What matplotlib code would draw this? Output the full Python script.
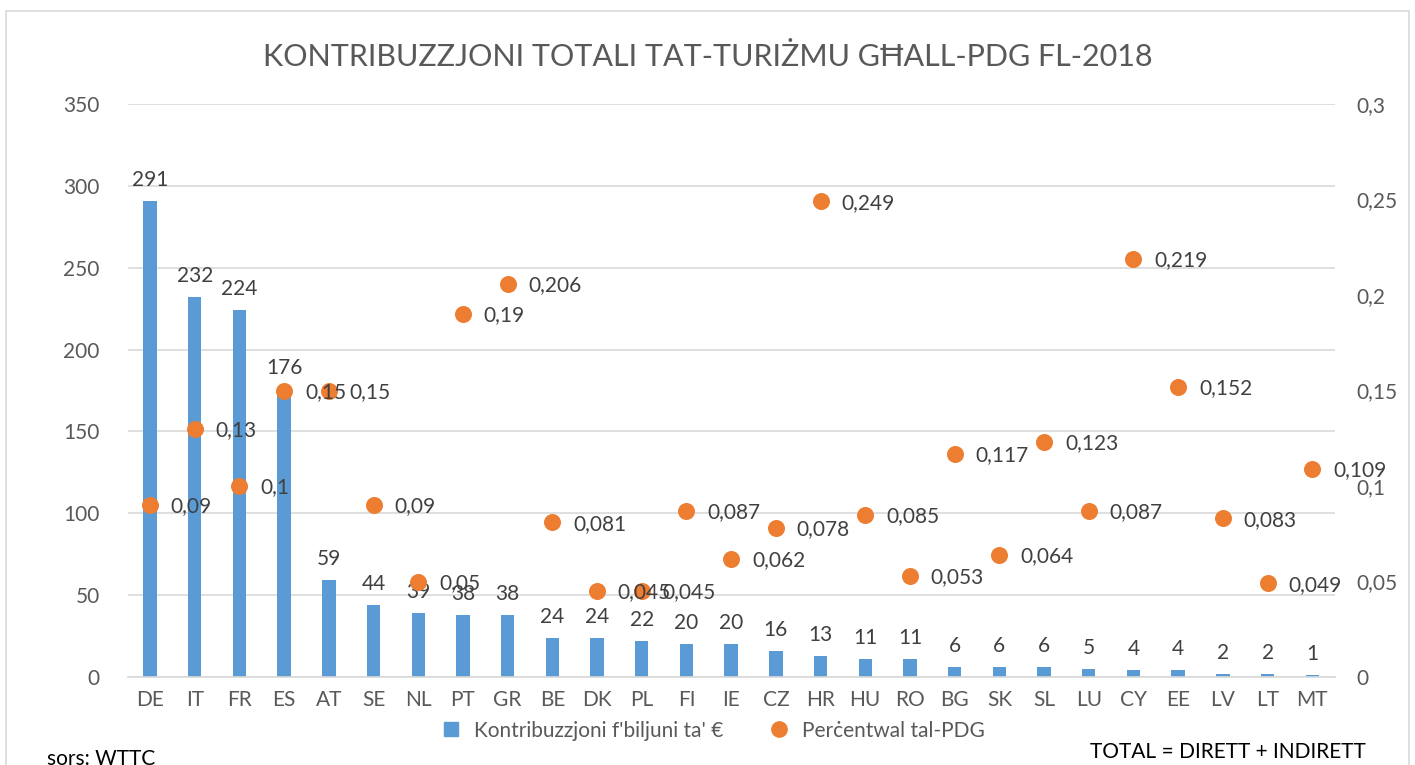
import matplotlib.pyplot as plt
from matplotlib.patches import Rectangle
from matplotlib.lines import Line2D
import numpy as np

# --- dados ---
countries = ["DE", "IT", "FR", "ES", "AT", "SE", "NL", "PT", "GR", "BE", "DK", "PL", "FI", "IE",
             "CZ", "HR", "HU", "RO", "BG", "SK", "SL", "LU", "CY", "EE", "LV", "LT", "MT"]
contrib = [291, 232, 224, 176, 59, 44, 39, 38, 38, 24, 24, 22, 20, 20,
           16, 13, 11, 11, 6, 6, 6, 5, 4, 4, 2, 2, 1]
pct_gdp = [0.09, 0.13, 0.1, 0.15, 0.15, 0.09, 0.05, 0.19, 0.206, 0.081, 0.045, 0.045, 0.087, 0.062,
           0.078, 0.249, 0.085, 0.053, 0.117, 0.064, 0.123, 0.087, 0.219, 0.152, 0.083, 0.049, 0.109]
left_ticks = [0, 50, 100, 150, 200, 250, 300, 350]
right_ticks = [0, 0.05, 0.1, 0.15, 0.2, 0.25, 0.3]

BLUE = "#5B9BD5"
ORANGE = "#ED7D31"
GREY = "#595959"
TXT = "#404040"
FS = 15

plt.rcParams.update({
    "font.family": ["Lato", "DejaVu Sans"],
    "font.size": FS,
})

def fmt(v):
    return ("%g" % v).replace(".", ",")

fig = plt.figure(figsize=(14.15, 7.65), dpi=100)
# moldura externa
fig.patches.append(Rectangle((0.004, -0.01), 0.992, 0.995, transform=fig.transFigure,
                             fill=False, edgecolor="#D9D9D9", linewidth=1.2))

ax = fig.add_axes([0.0902, 0.115, 0.853, 0.749])
x = np.arange(len(countries))

ax.bar(x, contrib, width=0.3, color=BLUE, zorder=2)
ax.set_xlim(-0.5, len(countries) - 0.5)
ax.set_ylim(0, 350)
ax.set_yticks(left_ticks)
ax.set_yticklabels([str(t) for t in left_ticks])
ax.set_xticks(x)
ax.set_xticklabels(countries)
ax.grid(axis="y", color="#D9D9D9", linewidth=1.2, zorder=0)
ax.set_axisbelow(True)
for s in ["top", "right", "left"]:
    ax.spines[s].set_visible(False)
ax.spines["bottom"].set_color("#D9D9D9")
ax.spines["bottom"].set_linewidth(1.2)
ax.tick_params(axis="both", length=0, colors=GREY, labelsize=FS)
ax.tick_params(axis="y", pad=20)
ax.tick_params(axis="x", pad=9)

for xi, v in zip(x, contrib):
    ax.annotate(str(v), (xi, v), xytext=(0, 8), textcoords="offset points",
                ha="center", va="bottom", fontsize=FS, color=TXT)

ax2 = ax.twinx()
ax2.set_ylim(0, 0.3)
ax2.set_yticks(right_ticks)
ax2.set_yticklabels([fmt(t) for t in right_ticks])
for s in ["top", "right", "left", "bottom"]:
    ax2.spines[s].set_visible(False)
ax2.tick_params(axis="y", length=0, colors=GREY, labelsize=FS, pad=16)

ax2.scatter(x, pct_gdp, s=150, color=ORANGE, zorder=3, linewidths=0)
for xi, v in zip(x, pct_gdp):
    ax2.annotate(fmt(v), (xi, v), xytext=(15, -1), textcoords="offset points",
                 ha="left", va="center", fontsize=FS, color=TXT)

fig.text(0.5, 0.926, "KONTRIBUZZJONI TOTALI TAT-TURIŻMU GĦALL-PDG FL-2018",
         ha="center", va="center", fontsize=22, color=GREY)

handles = [Line2D([], [], marker="s", linestyle="none", color=BLUE, markersize=10),
           Line2D([], [], marker="o", linestyle="none", color=ORANGE, markersize=11)]
fig.legend(handles, ["Kontribuzzjoni f'biljuni ta' €", "Perċentwal tal-PDG"],
           loc="center", bbox_to_anchor=(0.5, 0.045), ncol=2, frameon=False,
           fontsize=FS, handletextpad=0.1, columnspacing=1.7, labelcolor=GREY)

fig.text(0.033, 0.008, "sors: WTTC", ha="left", va="center", fontsize=FS, color="black")
fig.text(0.965, 0.017, "TOTAL = DIRETT + INDIRETT", ha="right", va="center",
         fontsize=FS, color="black")

fig.savefig("out.png", dpi=100)
